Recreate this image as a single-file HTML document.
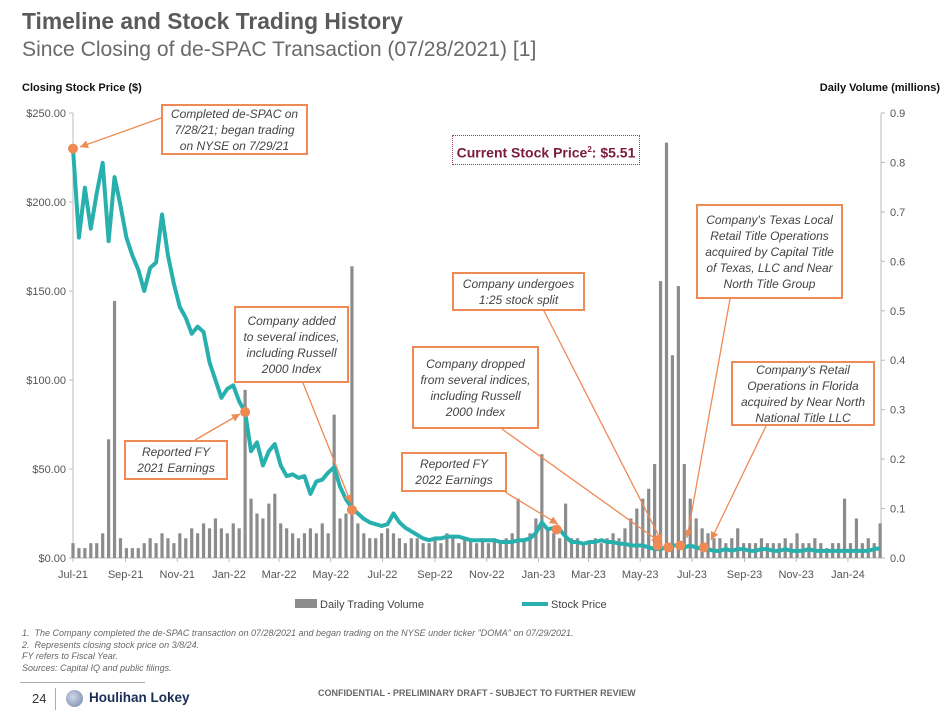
<!DOCTYPE html>
<html><head><meta charset="utf-8"><style>
body{margin:0;background:#fff;font-family:"Liberation Sans",sans-serif;}
#wrap{position:relative;width:950px;height:713px;overflow:hidden;}
.t{position:absolute;white-space:nowrap;}
.box{position:absolute;border:2px solid #ef8a55;background:#fff;font-style:italic;color:#444;font-size:12px;line-height:16px;text-align:center;display:flex;align-items:center;justify-content:center;box-sizing:border-box;}
</style></head><body><div id="wrap">
<div class="t" style="left:22px;top:8px;font-size:22.8px;font-weight:bold;color:#5a5a5a;">Timeline and Stock Trading History</div>
<div class="t" style="left:22px;top:38px;font-size:21.1px;color:#6a6a6a;">Since Closing of de-SPAC Transaction (07/28/2021) [1]</div>
<div class="t" style="left:22px;top:82px;font-size:11px;font-weight:bold;color:#111;">Closing Stock Price ($)</div>
<div class="t" style="right:10px;top:82px;font-size:11px;font-weight:bold;color:#111;">Daily Volume (millions)</div>
<svg id="chart" width="950" height="713" style="position:absolute;left:0;top:0;"></svg>
<div class="box" style="left:161px;top:104px;width:147px;height:51px;">Completed de-SPAC on<br>7/28/21; began trading<br>on NYSE on 7/29/21</div>
<div class="t" style="left:452px;top:135px;width:188px;height:30px;border:1px dotted #9b3a55;box-sizing:border-box;color:#7b1c3a;font-weight:bold;font-size:14px;line-height:28px;text-align:center;">Current Stock Price<sup style="font-size:8px">2</sup>: $5.51</div>
<div class="box" style="left:234px;top:306px;width:115px;height:77px;">Company added<br>to several indices,<br>including Russell<br>2000 Index</div>
<div class="box" style="left:124px;top:440px;width:104px;height:40px;">Reported FY<br>2021 Earnings</div>
<div class="box" style="left:452px;top:272px;width:133px;height:39px;">Company undergoes<br>1:25 stock split</div>
<div class="box" style="left:412px;top:346px;width:127px;height:83px;">Company dropped<br>from several indices,<br>including Russell<br>2000 Index</div>
<div class="box" style="left:401px;top:452px;width:106px;height:40px;">Reported FY<br>2022 Earnings</div>
<div class="box" style="left:696px;top:204px;width:147px;height:95px;">Company's Texas Local<br>Retail Title Operations<br>acquired by Capital Title<br>of Texas, LLC and Near<br>North Title Group</div>
<div class="box" style="left:731px;top:361px;width:144px;height:65px;">Company's Retail<br>Operations in Florida<br>acquired by Near North<br>National Title LLC</div>
<div class="t" style="left:22px;top:628px;font-size:9px;line-height:11.5px;font-style:italic;color:#666;">1.&nbsp; The Company completed the de-SPAC transaction on 07/28/2021 and began trading on the NYSE under ticker "DOMA" on 07/29/2021.<br>2.&nbsp; Represents closing stock price on 3/8/24.<br>FY refers to Fiscal Year.<br>Sources: Capital IQ and public filings.</div>
<div style="position:absolute;left:20px;top:682px;width:125px;border-top:1px solid #aaa;"></div>
<div class="t" style="left:32px;top:691px;font-size:13px;color:#333;">24</div>
<div style="position:absolute;left:55px;top:688px;height:22px;border-left:1px solid #aaa;"></div>
<div style="position:absolute;left:66px;top:690px;width:17px;height:17px;border-radius:50%;background:radial-gradient(circle at 40% 40%,#cfd8e6,#6f83a8);"></div>
<div class="t" style="left:89px;top:690px;font-size:13.5px;font-weight:bold;color:#1c2e57;">Houlihan Lokey</div>
<div class="t" style="left:318px;top:688px;font-size:9px;font-weight:bold;color:#666;">CONFIDENTIAL - PRELIMINARY DRAFT - SUBJECT TO FURTHER REVIEW</div>
</div>
<script>
const priceWeekly=[230,180,208,185,205,222,178,214,198,180,170,162,150,163,166,193,170,154,141,135,126,130,127,110,100,90,95,97,88,82,60,65,52,60,64,52,46,47,45,46,36,43,44,48,51,40,33,28,25,22,20,19,18,19,25,20,17,15,13,11,10,11,11,12,12,12,11,10,10,10,10,10,9,9,9,10,10,11,14,20,16,17,16,12,9,9,8,9,9,10,9,9,8,8,7,7,7,6,5,5,6,7,7,6,7,6,5,5,4,4,5,4,5,5,4,4,5,5,4,4,5,4,4,4,5,4,4,4,4,4,4,4,4,4,4,5,5.5];
const volumeWeekly=[0.03,0.02,0.02,0.03,0.03,0.05,0.24,0.52,0.04,0.02,0.02,0.02,0.03,0.04,0.03,0.05,0.04,0.03,0.05,0.04,0.06,0.05,0.07,0.06,0.08,0.06,0.05,0.07,0.06,0.34,0.12,0.09,0.08,0.11,0.13,0.07,0.06,0.05,0.04,0.05,0.06,0.05,0.07,0.05,0.29,0.08,0.09,0.59,0.07,0.05,0.04,0.04,0.05,0.06,0.05,0.04,0.03,0.04,0.04,0.03,0.03,0.04,0.03,0.05,0.04,0.03,0.04,0.04,0.03,0.04,0.03,0.04,0.03,0.04,0.05,0.12,0.04,0.05,0.08,0.21,0.06,0.05,0.04,0.11,0.04,0.04,0.03,0.03,0.04,0.03,0.04,0.05,0.04,0.06,0.08,0.10,0.12,0.14,0.19,0.56,0.84,0.41,0.55,0.19,0.12,0.08,0.06,0.05,0.04,0.04,0.03,0.04,0.06,0.03,0.03,0.03,0.04,0.03,0.03,0.03,0.04,0.03,0.05,0.03,0.03,0.04,0.03,0.02,0.03,0.03,0.12,0.03,0.08,0.03,0.04,0.03,0.07];
const priceTicks=[0,50,100,150,200,250];
const priceTickLabels=["$0.00","$50.00","$100.00","$150.00","$200.00","$250.00"];
const volTicks=[0,0.1,0.2,0.3,0.4,0.5,0.6,0.7,0.8,0.9];
const monthLabels=["Jul-21","Sep-21","Nov-21","Jan-22","Mar-22","May-22","Jul-22","Sep-22","Nov-22","Jan-23","Mar-23","May-23","Jul-23","Sep-23","Nov-23","Jan-24"];
const monthDays=[0,62,123,184,243,304,365,427,488,549,608,669,730,792,853,914];
const eventWeeks=[0,29,47,81.5,98.5,100.3,102.3,106.3];
const eventPrices=[230,82,27,16,7,6,7,6];
const X0=73,X1=881,Y0=558,Y1=113,DAYS=953;
const xDay=d=>X0+d*(X1-X0)/DAYS;
const xW=w=>xDay(w*7);
const yP=p=>Y0-p*(Y0-Y1)/250;
const yV=v=>Y0-v*(Y0-Y1)/0.9;
const svg=document.getElementById('chart');
const NS='http://www.w3.org/2000/svg';
function mk(tag,at){const e=document.createElementNS(NS,tag);for(const k in at)e.setAttribute(k,at[k]);svg.appendChild(e);return e;}
let e=mk('line',{x1:X0,y1:Y1,x2:X0,y2:Y0,stroke:'#bbb'});


e=mk('line',{x1:X1,y1:Y1,x2:X1,y2:Y0,stroke:'#bbb'});


e=mk('line',{x1:X0,y1:Y0,x2:X1,y2:Y0,stroke:'#bbb'});


priceTicks.forEach((p,i)=>{
  e=mk('line',{x1:X0-4,y1:yP(p),x2:X0,y2:yP(p),stroke:'#bbb'});
  
  
  e=mk('text',{x:X0-7,y:yP(p)+4,'text-anchor':'end','font-size':'11','fill':'#555','font-family':'Liberation Sans'});
  e.textContent=priceTickLabels[i];
  
  
});
volTicks.forEach(v=>{
  e=mk('line',{x1:X1,y1:yV(v),x2:X1+4,y2:yV(v),stroke:'#bbb'});
  
  
  e=mk('text',{x:X1+9,y:yV(v)+4,'font-size':'11','fill':'#555','font-family':'Liberation Sans'});
  e.textContent=v.toFixed(1);
  
  
});
monthLabels.forEach((m,i)=>{
  const x=xDay(monthDays[i]);
  e=mk('line',{x1:x,y1:Y0,x2:x,y2:Y0+4,stroke:'#bbb'});
  
  
  e=mk('text',{x:x,y:Y0+20,'text-anchor':'middle','font-size':'11','fill':'#555','font-family':'Liberation Sans'});
  e.textContent=m;
  
  
});
volumeWeekly.forEach((v,i)=>{
  const x=xW(i);
  e=mk('rect',{x:x-1.6,y:yV(v),width:3.2,height:Y0-yV(v),fill:'#8c8c8c'});
  
  
});
e=mk('polyline',{points:priceWeekly.map((p,i)=>xW(i)+','+yP(p)).join(' '),fill:'none',stroke:'#27b0ad','stroke-width':4,'stroke-linejoin':'round'});


const arrows=[[161,118,80,147],[195,440,240,414],[303,383,351,503],[505,492,558,524],[502,429,660,542],[544,311,662,542],[730,299,687,538],[766,426,711,540]];
arrows.forEach(a=>{
  e=mk('line',{x1:a[0],y1:a[1],x2:a[2],y2:a[3],stroke:'#ef8a55','stroke-width':1.3});
  
  
  const ang=Math.atan2(a[3]-a[1],a[2]-a[0]),L=8,W=4;
  const bx=a[2]-L*Math.cos(ang),by=a[3]-L*Math.sin(ang);
  e=mk('polygon',{points:`${a[2]},${a[3]} ${bx-W*Math.sin(ang)},${by+W*Math.cos(ang)} ${bx+W*Math.sin(ang)},${by-W*Math.cos(ang)}`,fill:'#ef8a55'});
  
  
});
eventWeeks.forEach((w,i)=>{
  e=mk('circle',{cx:xW(w),cy:yP(eventPrices[i]),r:5,fill:'#ef8a55'});
  
  
});
e=mk('rect',{x:295,y:599,width:22,height:9,fill:'#8c8c8c'});


e=mk('text',{x:320,y:608,'font-size':'11','fill':'#444','font-family':'Liberation Sans'});
e.textContent='Daily Trading Volume';


e=mk('line',{x1:522,y1:604,x2:548,y2:604,stroke:'#27b0ad','stroke-width':4});


e=mk('text',{x:551,y:608,'font-size':'11','fill':'#444','font-family':'Liberation Sans'});
e.textContent='Stock Price';


</script>
</body></html>
